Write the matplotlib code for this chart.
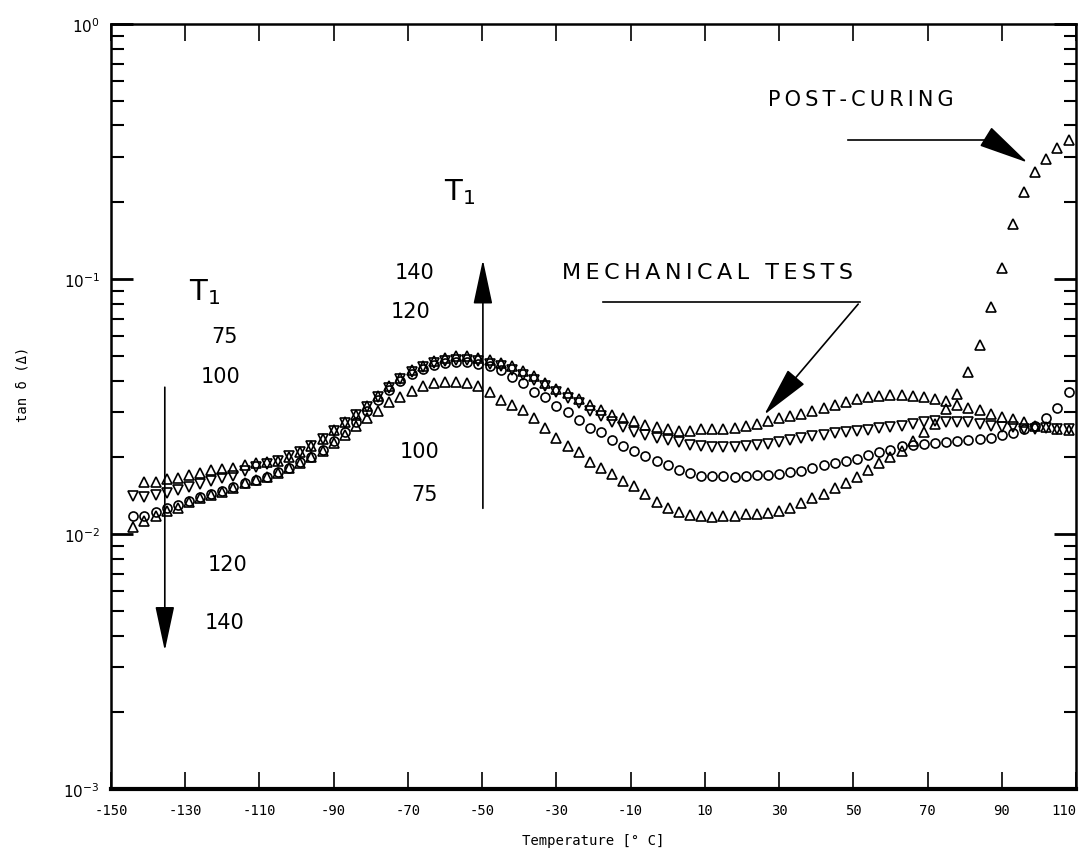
import matplotlib
matplotlib.use("Agg")
import matplotlib.pyplot as plt
import numpy as np

# measurement temperatures (deg C)
temps = [-144, -141, -138, -135, -132, -129, -126, -123, -120, -117, -114, -111,
         -108, -105, -102, -99, -96, -93, -90, -87, -84, -81, -78, -75, -72, -69,
         -66, -63, -60, -57, -54, -51, -48, -45, -42, -39, -36, -33, -30, -27,
         -24, -21, -18, -15, -12, -9, -6, -3, 0, 3, 6, 9, 12, 15, 18, 21, 24, 27,
         30, 33, 36, 39, 42, 45, 48, 51, 54, 57, 60, 63, 66, 69, 72, 75, 78, 81,
         84, 87, 90, 93, 96, 99, 102, 105, 108]

# upper triangles
tan_a = [np.nan, 0.0160, 0.0160, 0.0164, 0.0166, 0.0170, 0.0174, 0.0179, 0.0180, 0.0182,
         0.0186, 0.0190, 0.0191, 0.0194, 0.0200, 0.0210, 0.0222, 0.0236, 0.0255, 0.0274,
         0.0293, 0.0318, 0.0348, 0.0380, 0.0410, 0.0438, 0.0458, 0.0475, 0.0490, 0.0498,
         0.0500, 0.0492, 0.0480, 0.0468, 0.0454, 0.0435, 0.0415, 0.0392, 0.0372, 0.0358,
         0.0337, 0.0320, 0.0306, 0.0294, 0.0286, 0.0277, 0.0268, 0.0262, 0.0257, 0.0254,
         0.0254, 0.0257, 0.0258, 0.0259, 0.0261, 0.0265, 0.0270, 0.0278, 0.0284, 0.0290,
         0.0295, 0.0305, 0.0311, 0.0320, 0.0330, 0.0337, 0.0344, 0.0348, 0.0351, 0.0351,
         0.0348, 0.0344, 0.0338, 0.0331, 0.0320, 0.0313, 0.0306, 0.0296, 0.0288, 0.0282,
         0.0274, 0.0266, 0.0263, 0.0258, 0.0256]

# down triangles
tan_b = [0.0141, 0.0140, 0.0142, 0.0145, 0.0149, 0.0153, 0.0157, 0.0162, 0.0166, 0.0169,
         0.0176, 0.0183, 0.0188, 0.0194, 0.0203, 0.0210, 0.0221, 0.0236, 0.0253, 0.0272,
         0.0292, 0.0315, 0.0345, 0.0375, 0.0405, 0.0432, 0.0452, 0.0468, 0.0478, 0.0482,
         0.0482, 0.0475, 0.0466, 0.0455, 0.0440, 0.0422, 0.0402, 0.0380, 0.0360, 0.0342,
         0.0325, 0.0305, 0.0290, 0.0276, 0.0264, 0.0252, 0.0245, 0.0239, 0.0234, 0.0229,
         0.0224, 0.0221, 0.0219, 0.0219, 0.0219, 0.0221, 0.0223, 0.0226, 0.0230, 0.0234,
         0.0237, 0.0242, 0.0245, 0.0248, 0.0251, 0.0253, 0.0256, 0.0261, 0.0263, 0.0266,
         0.0270, 0.0276, 0.0277, 0.0275, 0.0275, 0.0274, 0.0271, 0.0266, 0.0264, 0.0262,
         0.0259, 0.0259, 0.0260, 0.0259, 0.0258]

# circles
tan_c = [0.0118, 0.0118, 0.0122, 0.0126, 0.0130, 0.0135, 0.0140, 0.0143, 0.0147, 0.0153,
         0.0159, 0.0163, 0.0168, 0.0175, 0.0182, 0.0191, 0.0201, 0.0214, 0.0231, 0.0252,
         0.0276, 0.0305, 0.0336, 0.0368, 0.0398, 0.0425, 0.0445, 0.0460, 0.0470, 0.0474,
         0.0472, 0.0464, 0.0455, 0.0438, 0.0414, 0.0392, 0.0362, 0.0345, 0.0318, 0.0302,
         0.0280, 0.0260, 0.0252, 0.0233, 0.0222, 0.0212, 0.0203, 0.0194, 0.0186, 0.0179,
         0.0173, 0.0169, 0.0169, 0.0169, 0.0168, 0.0169, 0.0170, 0.0171, 0.0172, 0.0175,
         0.0177, 0.0182, 0.0186, 0.0190, 0.0193, 0.0197, 0.0204, 0.0210, 0.0214, 0.0221,
         0.0224, 0.0225, 0.0227, 0.0230, 0.0232, 0.0234, 0.0235, 0.0238, 0.0244, 0.0250,
         0.0258, 0.0266, 0.0285, 0.0312, 0.0360]

# lower triangles (post-curing branch at the end)
tan_d = [0.0107, 0.0112, 0.0118, 0.0123, 0.0127, 0.0133, 0.0138, 0.0142, 0.0146, 0.0152,
         0.0158, 0.0163, 0.0168, 0.0174, 0.0181, 0.0190, 0.0200, 0.0212, 0.0228, 0.0245,
         0.0265, 0.0285, 0.0303, 0.0330, 0.0345, 0.0365, 0.0380, 0.0390, 0.0396, 0.0396,
         0.0390, 0.0380, 0.0360, 0.0335, 0.0320, 0.0306, 0.0284, 0.0260, 0.0237, 0.0222,
         0.0209, 0.0192, 0.0181, 0.0172, 0.0162, 0.0154, 0.0143, 0.0133, 0.0127, 0.0122,
         0.0119, 0.0118, 0.0117, 0.0118, 0.0118, 0.0120, 0.0120, 0.0121, 0.0123, 0.0126,
         0.0132, 0.0138, 0.0144, 0.0151, 0.0158, 0.0167, 0.0178, 0.0190, 0.0200, 0.0212,
         0.0231, 0.0252, 0.0270, 0.0310, 0.0355, 0.0430, 0.0550, 0.0780, 0.110, 0.165,
         0.220, 0.262, 0.296, 0.326, 0.352]

xticks = [-150, -130, -110, -90, -70, -50, -30, -10, 10, 30, 50, 70, 90, 110]


def spaced(s):
    # widen letter spacing like the original lettering
    return '\u2009'.join(s)


fig = plt.figure(figsize=(10.86, 8.54), dpi=100)
ax = fig.add_axes([0.1022, 0.0749, 0.8886, 0.8958])

mk = dict(linestyle='none', mfc='none', mec='black', mew=1.2, ms=6.5)
ax.plot(temps, tan_a, marker='^', **mk)
ax.plot(temps, tan_b, marker='v', **mk)
ax.plot(temps, tan_c, marker='o', **mk)
ax.plot(temps, tan_d, marker='^', **mk)

ax.set_yscale('log')
ax.set_xlim(-150, 110)
ax.set_ylim(1e-3, 1)

ax.set_xticks(xticks)
ax.set_xticklabels([str(t) for t in xticks], family='DejaVu Sans Mono', fontsize=10)
ax.get_xticklabels()[-1].set_ha('right')
ax.set_yticks([1e-3, 1e-2, 1e-1, 1])
ax.set_yticklabels(['$10^{-3}$', '$10^{-2}$', '$10^{-1}$', '$10^{0}$'], fontsize=11)
ax.tick_params(axis='x', which='both', direction='in', top=True, length=12, width=1.2, pad=10)
ax.tick_params(axis='y', which='major', direction='in', right=True, length=16, width=2, pad=8)
ax.tick_params(axis='y', which='minor', direction='in', right=True, length=9, width=1.5)
ax.yaxis.set_minor_formatter(matplotlib.ticker.NullFormatter())
for s in ax.spines.values():
    s.set_linewidth(1.8)
ax.spines['bottom'].set_linewidth(3)

ax.set_xlabel('Temperature [° C]', family='DejaVu Sans Mono', fontsize=10)
ax.set_ylabel('tan δ (Δ)', family='DejaVu Sans Mono', fontsize=10)
ax.xaxis.set_label_coords(0.5, -0.058)
ax.yaxis.set_label_coords(-0.084, 0.53)

txt = dict(fontsize=15, ha='center', va='center', color='black')
head = '-|>,head_length=1.4,head_width=0.3'
# left group
ax.text(-124.7, 0.0897, r'$\mathregular{T_1}$', fontsize=21, ha='center', va='center')
ax.text(-119.3, 0.0598, '75', **txt)
ax.text(-120.6, 0.0417, '100', **txt)
ax.text(-118.5, 0.00762, '120', **txt)
ax.text(-119.3, 0.00452, '140', **txt)
ax.annotate('', xy=(-135.5, 0.0034), xytext=(-135.5, 0.0386),
            arrowprops=dict(arrowstyle=head, lw=1.2, color='black', mutation_scale=20))
# middle group
ax.text(-56, 0.221, r'$\mathregular{T_1}$', fontsize=21, ha='center', va='center')
ax.text(-68.1, 0.1066, '140', **txt)
ax.text(-69.4, 0.0749, '120', **txt)
ax.text(-66.8, 0.0212, '100', **txt)
ax.text(-65.4, 0.01435, '75', **txt)
ax.annotate('', xy=(-49.8, 0.122), xytext=(-49.8, 0.0123),
            arrowprops=dict(arrowstyle=head, lw=1.2, color='black', mutation_scale=20))

# mechanical tests callout
ax.text(-28.5, 0.1066, spaced('MECHANICAL TESTS'), fontsize=16, ha='left', va='center')
ax.plot([-17.4, 51.8], [0.0813, 0.0813], color='black', lw=1.2)
ax.annotate('', xy=(25.5, 0.0288), xytext=(51.8, 0.0813),
            arrowprops=dict(arrowstyle='-|>,head_length=1.6,head_width=0.35',
                            lw=1.2, color='black', mutation_scale=20))

# post-curing callout
ax.text(27, 0.508, spaced('POST-CURING'), fontsize=15, ha='left', va='center')
ax.plot([48.5, 87], [0.352, 0.352], color='black', lw=1.2)
ax.annotate('', xy=(97.6, 0.2825), xytext=(87, 0.352),
            arrowprops=dict(arrowstyle='-|>,head_length=1.6,head_width=0.35',
                            lw=1.2, color='black', mutation_scale=20))

plt.savefig('out.png', dpi=100)
